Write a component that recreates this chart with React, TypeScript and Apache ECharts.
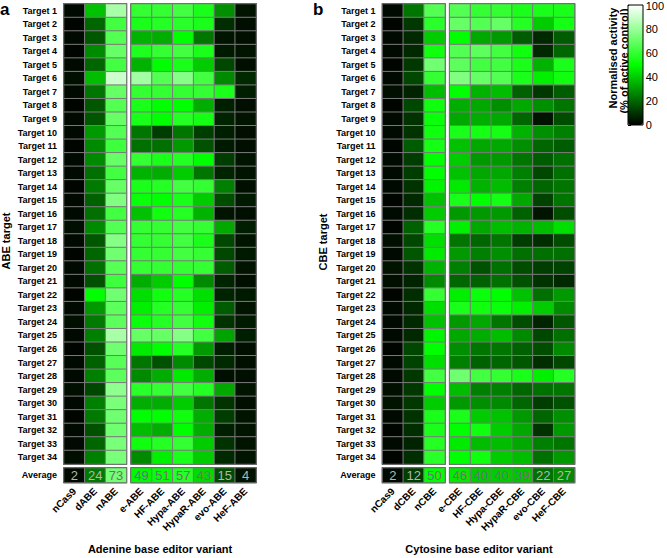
import React, { useEffect, useRef } from "react";
import * as echarts from "echarts";

const targets = Array.from({ length: 34 }, (_, i) => `Target ${i + 1}`);

const abeVariants = ["nCas9", "dABE", "nABE", "e-ABE", "HF-ABE", "Hypa-ABE", "HypaR-ABE", "evo-ABE", "HeF-ABE"];
const cbeVariants = ["nCas9", "dCBE", "nCBE", "e-CBE", "HF-CBE", "Hypa-CBE", "HypaR-CBE", "evo-CBE", "HeF-CBE"];

const abeAverage = [2, 24, 73, 49, 51, 57, 43, 15, 4];
const cbeAverage = [2, 12, 50, 46, 40, 40, 39, 22, 27];

// ABE panel, values per variant (Target 1..34)
const abeNCas9 = [2, 1, 2, 1, 2, 3, 2, 1, 2, 2, 1, 2, 2, 1, 2, 2, 3, 2, 1, 2, 2, 1, 2, 3, 2, 1, 2, 2, 3, 2, 1, 2, 2, 3];
const abeDABE = [38, 20, 17, 27, 20, 37, 23, 17, 17, 30, 27, 27, 22, 24, 19, 22, 27, 17, 20, 22, 16, 50, 30, 24, 25, 16, 19, 25, 14, 25, 24, 16, 20, 25];
const abeNABE = [83, 63, 66, 70, 63, 90, 70, 66, 70, 66, 62, 70, 63, 70, 75, 63, 66, 76, 72, 67, 62, 72, 68, 68, 83, 72, 67, 68, 78, 74, 72, 72, 74, 74];
const abeEABE = [60, 55, 35, 56, 35, 82, 60, 55, 55, 23, 22, 60, 35, 55, 52, 38, 60, 60, 60, 60, 34, 44, 47, 52, 70, 46, 23, 27, 58, 34, 50, 37, 53, 27];
const abeHFABE = [60, 57, 34, 60, 50, 66, 60, 50, 50, 12, 22, 55, 34, 57, 50, 53, 60, 60, 60, 60, 40, 53, 57, 57, 70, 50, 16, 34, 60, 34, 50, 34, 57, 47];
const abeHypaABE = [63, 58, 50, 63, 55, 76, 60, 50, 57, 23, 30, 57, 40, 63, 55, 57, 63, 63, 63, 60, 50, 57, 60, 63, 76, 57, 27, 46, 63, 40, 53, 50, 60, 55];
const abeHypaRABE = [55, 55, 23, 55, 40, 63, 60, 34, 54, 12, 16, 50, 23, 60, 40, 35, 60, 55, 60, 60, 27, 44, 47, 53, 63, 30, 14, 34, 57, 23, 34, 34, 40, 40];
const abeEvoABE = [28, 9, 4, 5, 14, 27, 55, 6, 7, 6, 5, 12, 7, 25, 15, 4, 33, 14, 14, 18, 7, 7, 18, 10, 32, 6, 8, 3, 33, 10, 12, 6, 10, 8];
const abeHeFABE = [4, 3, 3, 4, 3, 8, 6, 3, 4, 3, 3, 4, 4, 3, 5, 3, 6, 4, 5, 4, 3, 5, 4, 5, 6, 3, 3, 3, 4, 3, 4, 4, 4, 4];

// CBE panel, values per variant (Target 1..34)
const cbeNCas9 = [2, 1, 2, 2, 1, 2, 3, 1, 2, 2, 1, 2, 2, 2, 1, 2, 1, 3, 2, 4, 3, 1, 2, 2, 2, 1, 2, 2, 3, 4, 2, 1, 2, 1];
const cbeDCBE = [23, 11, 8, 8, 11, 14, 7, 14, 10, 10, 18, 12, 12, 10, 8, 9, 19, 14, 17, 10, 7, 9, 8, 8, 8, 14, 13, 11, 11, 11, 10, 9, 7, 9];
const cbeNCBE = [66, 58, 40, 53, 72, 60, 37, 53, 52, 53, 54, 50, 50, 48, 38, 40, 57, 44, 46, 35, 27, 60, 44, 38, 48, 50, 44, 63, 50, 40, 55, 55, 57, 58];
const cbeECBE = [66, 70, 50, 66, 68, 75, 50, 34, 33, 55, 38, 40, 38, 46, 55, 30, 47, 23, 30, 25, 20, 47, 55, 30, 33, 28, 25, 72, 37, 30, 55, 50, 46, 50];
const cbeHFCBE = [60, 66, 33, 68, 63, 70, 35, 33, 34, 54, 33, 30, 33, 35, 50, 30, 33, 20, 25, 16, 19, 52, 53, 33, 34, 23, 19, 63, 25, 28, 40, 53, 37, 53];
const cbeHypaCBE = [60, 70, 30, 63, 63, 66, 37, 28, 33, 54, 33, 30, 33, 37, 54, 30, 37, 23, 28, 22, 22, 50, 52, 23, 37, 23, 20, 60, 25, 27, 38, 40, 37, 40];
const cbeHypaRCBE = [55, 57, 18, 53, 55, 55, 19, 33, 20, 35, 28, 23, 25, 25, 33, 19, 35, 12, 22, 15, 16, 38, 47, 15, 27, 19, 17, 55, 20, 20, 30, 33, 33, 37];
const cbeEvoCBE = [55, 40, 8, 8, 35, 47, 11, 28, 4, 28, 20, 18, 14, 20, 13, 4, 37, 9, 22, 12, 10, 22, 40, 7, 14, 15, 9, 47, 22, 12, 20, 10, 25, 22];
const cbeHeFCBE = [55, 54, 18, 20, 55, 53, 18, 23, 15, 25, 18, 22, 22, 23, 23, 15, 44, 15, 22, 13, 8, 30, 27, 17, 22, 27, 14, 57, 23, 16, 28, 30, 23, 30];

const abeColumns = [abeNCas9, abeDABE, abeNABE, abeEABE, abeHFABE, abeHypaABE, abeHypaRABE, abeEvoABE, abeHeFABE];
const cbeColumns = [cbeNCas9, cbeDCBE, cbeNCBE, cbeECBE, cbeHFCBE, cbeHypaCBE, cbeHypaRCBE, cbeEvoCBE, cbeHeFCBE];

const FONT = "Liberation Sans, Arial, Helvetica, sans-serif";

function buildPanel(
  gridOffset: number,
  left: number,
  variants: string[],
  columns: number[][],
  averages: number[]
) {
  const colW = 20.8;
  const gap = 4.8;
  const top = 4;
  const rowH = 13.53;
  const mainH = rowH * 34;
  const avgTop = top + mainH + 4;
  const avgH = 14.5;
  const leftW = colW * 3;
  const rightW = colW * 6;
  const rightX = left + leftW + gap;

  const grids = [
    { left, top, width: leftW, height: mainH },
    { left: rightX, top, width: rightW, height: mainH },
    { left, top: avgTop, width: leftW, height: avgH },
    { left: rightX, top: avgTop, width: rightW, height: avgH },
  ].map((g) => ({ ...g, show: true, borderColor: "#000", borderWidth: 1.5, backgroundColor: "#000", containLabel: false }));

  const hiddenAxisCommon = {
    axisLine: { show: false },
    axisTick: { show: false },
    splitLine: { show: false },
  };

  const xLabel = { show: true, rotate: 45, margin: 7, fontSize: 10, fontWeight: "bold", color: "#000", fontFamily: FONT, interval: 0 };
  const yLabel = { show: true, margin: 7, fontSize: 9, fontWeight: "bold", color: "#000", fontFamily: FONT, interval: 0 };

  const xAxes = [
    { gridIndex: gridOffset, type: "category", data: variants.slice(0, 3), axisLabel: { show: false }, ...hiddenAxisCommon },
    { gridIndex: gridOffset + 1, type: "category", data: variants.slice(3), axisLabel: { show: false }, ...hiddenAxisCommon },
    { gridIndex: gridOffset + 2, type: "category", data: variants.slice(0, 3), ...hiddenAxisCommon, axisLabel: xLabel },
    { gridIndex: gridOffset + 3, type: "category", data: variants.slice(3), ...hiddenAxisCommon, axisLabel: xLabel },
  ];

  const yAxes = [
    { gridIndex: gridOffset, type: "category", data: targets, inverse: true, ...hiddenAxisCommon, axisLabel: yLabel },
    { gridIndex: gridOffset + 1, type: "category", data: targets, inverse: true, axisLabel: { show: false }, ...hiddenAxisCommon },
    { gridIndex: gridOffset + 2, type: "category", data: ["Average"], ...hiddenAxisCommon, axisLabel: yLabel },
    { gridIndex: gridOffset + 3, type: "category", data: ["Average"], axisLabel: { show: false }, ...hiddenAxisCommon },
  ];

  const mainLeft: number[][] = [];
  const mainRight: number[][] = [];
  columns.forEach((col, ci) => {
    col.forEach((v, ri) => {
      if (ci < 3) mainLeft.push([ci, ri, v]);
      else mainRight.push([ci - 3, ri, v]);
    });
  });
  const avgItem = (v: number, i: number) => ({
    value: [i, 0, v],
    label: { color: v > 35 ? "#707070" : "#b4b4b4" },
  });
  const avgLeft = averages.slice(0, 3).map(avgItem);
  const avgRight = averages.slice(3).map(avgItem);

  const cellStyle = { borderColor: "#7a7a7a", borderWidth: 1 };
  const avgLabel = {
    show: true,
    formatter: (p: any) => String(p.value[2]),
    fontSize: 13,
    fontFamily: FONT,
  };
  const base = { type: "heatmap", emphasis: { disabled: true }, itemStyle: cellStyle };
  const series = [
    { ...base, xAxisIndex: gridOffset, yAxisIndex: gridOffset, data: mainLeft },
    { ...base, xAxisIndex: gridOffset + 1, yAxisIndex: gridOffset + 1, data: mainRight },
    { ...base, xAxisIndex: gridOffset + 2, yAxisIndex: gridOffset + 2, data: avgLeft, label: avgLabel },
    { ...base, xAxisIndex: gridOffset + 3, yAxisIndex: gridOffset + 3, data: avgRight, label: avgLabel },
  ];

  return { grids, xAxes, yAxes, series };
}

export default function App() {
  const ref = useRef<HTMLDivElement>(null);

  useEffect(() => {
    if (!ref.current) return;
    const chart = echarts.init(ref.current, null, { renderer: "svg" });

    const a = buildPanel(0, 64, abeVariants, abeColumns, abeAverage);
    const b = buildPanel(4, 382.5, cbeVariants, cbeColumns, cbeAverage);

    const cbLeft = 628;
    const cbTop = 5;
    const cbW = 15;
    const cbH = 120;

    const series = [...a.series, ...b.series];

    const titleStyle = { fontSize: 11, fontWeight: "bold", fill: "#000", fontFamily: FONT, textAlign: "center", textVerticalAlign: "middle" };

    const option: any = {
      animation: false,
      backgroundColor: "#fff",
      textStyle: { fontFamily: FONT },
      grid: [
        ...a.grids,
        ...b.grids,
        { left: cbLeft, top: cbTop, width: cbW, height: cbH, show: false },
      ],
      xAxis: [
        ...a.xAxes,
        ...b.xAxes,
        { gridIndex: 8, type: "value", show: false, min: 0, max: 1 },
      ],
      yAxis: [
        ...a.yAxes,
        ...b.yAxes,
        {
          gridIndex: 8,
          type: "value",
          position: "right",
          min: 0,
          max: 100,
          interval: 20,
          axisLine: { show: false },
          axisTick: { show: true, inside: false, length: 3, lineStyle: { color: "#000", width: 1 } },
          splitLine: { show: false },
          axisLabel: { show: true, margin: 5, fontSize: 11, color: "#000", fontFamily: FONT },
        },
      ],
      visualMap: {
        type: "continuous",
        min: 0,
        max: 100,
        seriesIndex: series.map((_, i) => i),
        inRange: { color: ["#000000", "#00ff00", "#ffffff"] },
        calculable: false,
        text: null,
        showLabel: false,
        orient: "vertical",
        left: cbLeft,
        top: cbTop,
        itemWidth: cbW,
        itemHeight: cbH,
        padding: 0,
        hoverLink: false,
      },
      graphic: [
        {
          type: "rect",
          shape: { x: cbLeft, y: cbTop, width: cbW, height: cbH },
          style: { fill: null, stroke: "#000", lineWidth: 1 },
          z: 100,
        },
        { type: "text", x: 0, y: 1, style: { text: "a", fontSize: 17, fontWeight: "bold", fill: "#000", fontFamily: FONT } },
        { type: "text", x: 313, y: 1, style: { text: "b", fontSize: 17, fontWeight: "bold", fill: "#000", fontFamily: FONT } },
        { type: "text", x: 6, y: 241, rotation: Math.PI / 2, style: { ...titleStyle, text: "ABE target" } },
        { type: "text", x: 323, y: 242, rotation: Math.PI / 2, style: { ...titleStyle, text: "CBE target" } },
        { type: "text", x: 160, y: 549, style: { ...titleStyle, text: "Adenine base editor variant" } },
        { type: "text", x: 479, y: 549, style: { ...titleStyle, text: "Cytosine base editor variant" } },
        { type: "text", x: 613, y: 58, rotation: Math.PI / 2, style: { ...titleStyle, text: "Normalised activity" } },
        { type: "text", x: 624, y: 61, rotation: Math.PI / 2, style: { ...titleStyle, text: "(% of active control)" } },
      ],
      series,
    };

    chart.setOption(option);
    return () => chart.dispose();
  }, []);

  return <div ref={ref} style={{ position: "fixed", left: 0, top: 0, width: 667, height: 558 }} />;
}
